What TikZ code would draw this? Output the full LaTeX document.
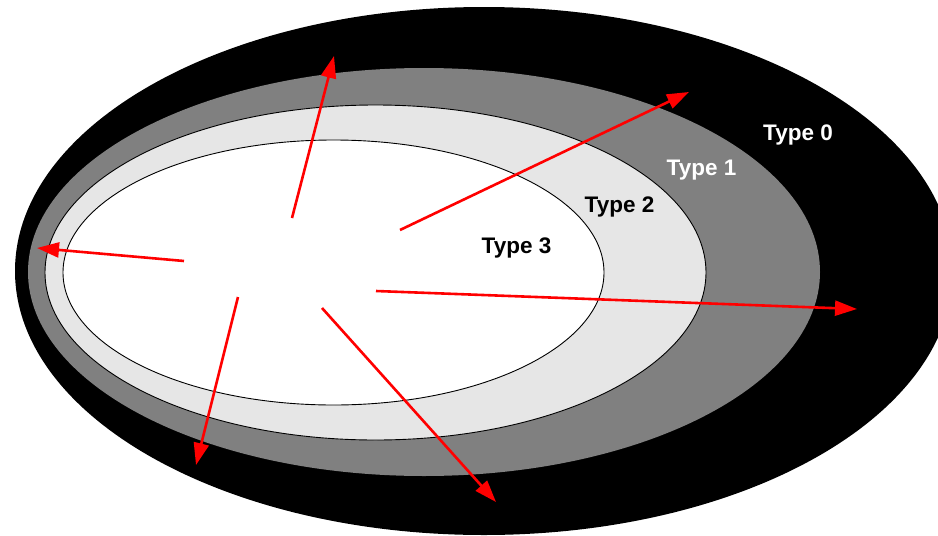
\documentclass[tikz,border=0pt]{standalone}
\usepackage{fontspec}
\setmainfont{Liberation Sans}
\usetikzlibrary{arrows.meta}

\definecolor{midgray}{HTML}{808080}
\definecolor{lightgray}{HTML}{E6E6E6}

\tikzset{
	lbl/.style={font=\bfseries\fontsize{22.5}{27}\selectfont, inner sep=0pt, anchor=base},
	ray/.style={red, line width=2.6pt, -{Triangle[length=22pt, width=15pt]}}
}

\begin{document}
\begin{tikzpicture}[x=1pt, y=-1pt]
		\clip (0,0) rectangle (938,536);
		\fill[white] (0,0) rectangle (938,536);
		% nested languages
		\fill[black] (484,271) ellipse [x radius=469pt, y radius=264pt];
		\fill[midgray] (424,272) ellipse [x radius=396pt, y radius=204pt];
		\draw[line width=0.9pt, fill=lightgray] (375.5,272.5) ellipse [x radius=330.5pt, y radius=167.5pt];
		\draw[line width=0.9pt, fill=white] (333.5,272.5) ellipse [x radius=270.5pt, y radius=132.5pt];
		\node[lbl, white] (t0) at (798,140) {Type 0};
		\node[lbl, white] (t1) at (701.5,175) {Type 1};
		\node[lbl] (t2) at (619.5,212) {Type 2};
		\node[lbl] (t3) at (516.5,253) {Type 3};
		% arrows leaving the inner set
		\draw[ray] (292,218) -- (334,56);
		\draw[ray] (400,230) -- (689,92);
		\draw[ray] (184,261) -- (37,248);
		\draw[ray] (376,291) -- (857,309);
		\draw[ray] (238,297) -- (196,465);
		\draw[ray] (322,308) -- (496,502);
	\end{tikzpicture}
\end{document}
